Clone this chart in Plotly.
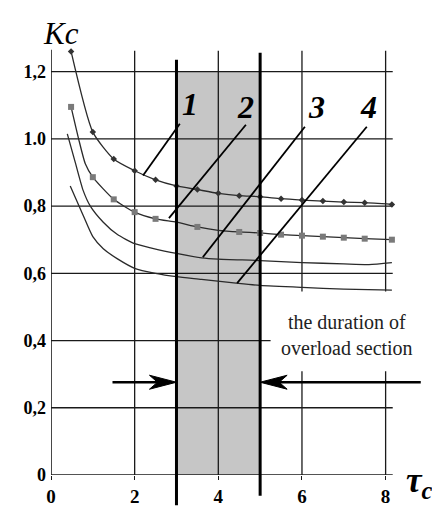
import plotly.graph_objects as go

# ---------------- data ----------------
c1_x = [0.48, 1.0, 1.5, 2.0, 2.5, 3.0, 3.5, 4.0, 4.5, 5.0, 5.5, 6.0, 6.5, 7.0, 7.5, 8.15]
c1_y = [1.26, 1.02, 0.94, 0.905, 0.878, 0.86, 0.849, 0.838, 0.831, 0.828, 0.822, 0.818, 0.815, 0.812, 0.81, 0.805]

c2_x = [0.48, 0.66, 0.82, 1.0, 1.5, 2.0, 2.5, 3.0, 3.5, 4.0, 4.5, 5.0, 5.5, 6.0, 6.5, 7.0, 7.5, 8.15]
c2_y = [1.095, 1.0, 0.926, 0.886, 0.82, 0.782, 0.762, 0.752, 0.738, 0.728, 0.723, 0.72, 0.715, 0.712, 0.709, 0.706, 0.703, 0.70]
c2_mark_x = [0.48, 1.0, 1.5, 2.0, 2.5, 3.5, 4.5, 5.0, 5.5, 6.0, 6.5, 7.0, 7.5, 8.15]

c3_x = [0.39, 0.58, 0.77, 0.94, 1.25, 1.58, 2.0, 2.38, 3.0, 3.6, 4.0, 5.0, 6.0, 7.0, 7.6, 8.15]
c3_y = [1.015, 0.93, 0.846, 0.80, 0.752, 0.716, 0.688, 0.676, 0.659, 0.646, 0.642, 0.638, 0.632, 0.628, 0.626, 0.632]

c4_x = [0.46, 0.77, 1.0, 1.25, 1.59, 2.0, 2.5, 3.0, 3.6, 4.48, 5.0, 6.0, 7.0, 8.15]
c4_y = [0.86, 0.772, 0.709, 0.673, 0.643, 0.615, 0.600, 0.59, 0.582, 0.57, 0.564, 0.558, 0.553, 0.55]

curve_labels = ["1", "2", "3", "4"]
label_x = [3.32, 4.66, 6.34, 7.58]
label_y = [1.104, 1.095, 1.095, 1.095]
leader_x0 = [2.20, 2.82, 3.63, 4.45]
leader_y0 = [0.891, 0.764, 0.648, 0.571]
leader_x1 = [3.08, 4.66, 6.07, 7.55]
leader_y1 = [1.045, 1.042, 1.036, 1.036]

x_ticks = [0, 2, 4, 6, 8]
x_ticktext = ["0", "2", "4", "6", "8"]
y_ticks = [0, 0.2, 0.4, 0.6, 0.8, 1.0, 1.2]
y_ticktext = ["0", "0,2", "0,4", "0,6", "0,8", "1.0", "1,2"]

overload_start = 3
overload_end = 5
arrow_y = 0.276
arrow_left_tail = 1.47
arrow_right_tail = 8.84
note_text = "the duration of<br>overload section"

# ---------------- layout geometry ----------------
# page body keeps its default 8px margin, so the figure is 8px smaller
W, H = 432, 499
ML, MR, MT, MB = 43, 0, 30, 30
XR = [0, 9.3]
YR = [0, 1.3]
px_x = (W - ML - MR) / (XR[1] - XR[0])
px_y = (H - MT - MB) / (YR[1] - YR[0])
GRID_END = 8.17
AXIS_TOP = 1.265
FONT = "Liberation Serif"
INK = "#1a1a1a"

fig = go.Figure()

line_style = dict(color="#2a2a2a", width=1.3, shape="spline", smoothing=0.6)
fig.add_trace(go.Scatter(x=c1_x, y=c1_y, mode="lines+markers", line=line_style,
                         marker=dict(symbol="diamond", size=5, color="#333"), showlegend=False))
fig.add_trace(go.Scatter(x=c2_x, y=c2_y, mode="lines", line=line_style, showlegend=False))
c2_mark_y = [c2_y[c2_x.index(v)] for v in c2_mark_x]
fig.add_trace(go.Scatter(x=c2_mark_x, y=c2_mark_y, mode="markers",
                         marker=dict(symbol="square", size=6, color="#7a7a7a"), showlegend=False))
fig.add_trace(go.Scatter(x=c3_x, y=c3_y, mode="lines", line=line_style, showlegend=False))
fig.add_trace(go.Scatter(x=c4_x, y=c4_y, mode="lines", line=line_style, showlegend=False))

shapes = []
# shaded overload section
shapes.append(dict(type="rect", xref="x", yref="y", x0=overload_start, x1=overload_end,
                   y0=0, y1=1.2, fillcolor="#c6c6c6", line=dict(width=0), layer="below"))
# horizontal grid + x axis line
for yv in y_ticks:
    shapes.append(dict(type="line", xref="x", yref="y", x0=0, x1=GRID_END, y0=yv, y1=yv,
                       line=dict(color=INK, width=1.6 if yv == 0 else 1.3), layer="below"))
# y axis line
shapes.append(dict(type="line", xref="x", yref="y", x0=0, x1=0, y0=0, y1=AXIS_TOP,
                   line=dict(color=INK, width=1.6), layer="below"))
# vertical grid
for xv in x_ticks[1:]:
    shapes.append(dict(type="line", xref="x", yref="y", x0=xv, x1=xv, y0=0, y1=1.262,
                       line=dict(color=INK, width=1.3), layer="below"))
# white patch behind the note
shapes.append(dict(type="rect", xref="x", yref="y", x0=5.25, x1=XR[1], y0=0.309, y1=0.546,
                   fillcolor="white", line=dict(width=0), layer="below"))
# thick boundary lines of overload section
shapes.append(dict(type="line", xref="x", yref="paper", x0=overload_start, x1=overload_start,
                   y0=-0.09 / YR[1], y1=1.235 / YR[1], line=dict(color="black", width=3)))
shapes.append(dict(type="line", xref="x", yref="paper", x0=overload_end, x1=overload_end,
                   y0=-0.062 / YR[1], y1=1.256 / YR[1], line=dict(color="black", width=3)))
# leader lines
for i in range(len(curve_labels)):
    shapes.append(dict(type="line", xref="x", yref="y", x0=leader_x0[i], y0=leader_y0[i],
                       x1=leader_x1[i], y1=leader_y1[i], line=dict(color="black", width=1.8)))
# arrow shafts
shapes.append(dict(type="line", xref="x", yref="y", x0=arrow_left_tail, x1=overload_start - 0.3,
                   y0=arrow_y, y1=arrow_y, line=dict(color="black", width=2.5)))
shapes.append(dict(type="line", xref="x", yref="y", x0=arrow_right_tail, x1=overload_end + 0.3,
                   y0=arrow_y, y1=arrow_y, line=dict(color="black", width=2.5)))


def head_path(tip_x, tip_y, direction):
    L, Hh, N = 27 / px_x, 7 / px_y, 19 / px_x
    d = direction
    pts = [(tip_x, tip_y), (tip_x - d * L, tip_y + Hh), (tip_x - d * N, tip_y),
           (tip_x - d * L, tip_y - Hh)]
    return "M " + " L ".join(f"{a},{b}" for a, b in pts) + " Z"


shapes.append(dict(type="path", xref="x", yref="y", path=head_path(overload_start, arrow_y, 1),
                   fillcolor="black", line=dict(color="black", width=1)))
shapes.append(dict(type="path", xref="x", yref="y", path=head_path(overload_end, arrow_y, -1),
                   fillcolor="black", line=dict(color="black", width=1)))

annotations = []
for i, lab in enumerate(curve_labels):
    annotations.append(dict(x=label_x[i], y=label_y[i], xref="x", yref="y", text=lab,
                            showarrow=False,
                            font=dict(family=FONT, size=32, color="black", weight="bold", style="italic")))
annotations.append(dict(x=7.08, y=0.416, xref="x", yref="y", text=note_text, showarrow=False,
                        font=dict(family=FONT, size=20, color="#222")))
annotations.append(dict(x=0.24 / XR[1], y=1.314 / YR[1], xref="paper", yref="paper", text="Kc",
                        showarrow=False, xanchor="center", yanchor="middle",
                        font=dict(family=FONT, size=31, color="black", style="italic")))
annotations.append(dict(x=8.8 / XR[1], y=-0.022 / YR[1], xref="paper", yref="paper",
                        text="τ<sub>c</sub>", showarrow=False, xanchor="center", yanchor="middle",
                        font=dict(family=FONT, size=35, color="black", weight="bold", style="italic")))

fig.update_layout(
    width=W, height=H,
    margin=dict(l=ML, r=MR, t=MT, b=MB),
    paper_bgcolor="white", plot_bgcolor="white",
    shapes=shapes, annotations=annotations,
    xaxis=dict(range=XR, tickvals=x_ticks, ticktext=x_ticktext, showgrid=False, zeroline=False,
               showline=False, ticks="outside", ticklen=4, tickcolor=INK, tickwidth=1.3,
               ticklabelstandoff=0,
               tickfont=dict(family=FONT, size=19, color="black", weight="bold")),
    yaxis=dict(range=YR, tickvals=y_ticks, ticktext=y_ticktext, showgrid=False, zeroline=False,
               showline=False, ticks="",
               ticklabelstandoff=4,
               tickfont=dict(family=FONT, size=18, color="black", weight="bold")),
)

fig.write_html("out.html")
